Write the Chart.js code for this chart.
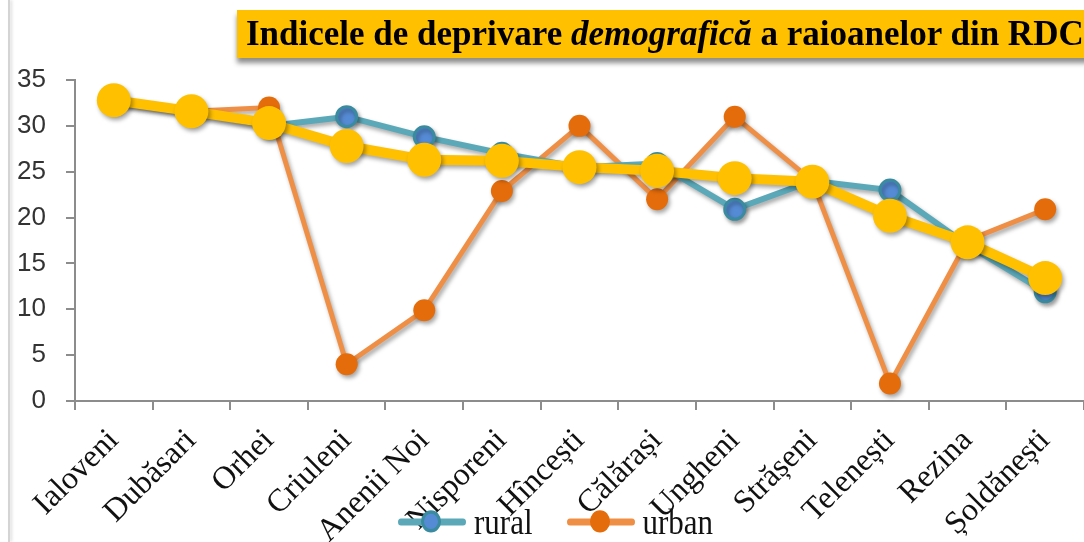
<!DOCTYPE html>
<html>
<head>
<meta charset="utf-8">
<script src="https://cdn.jsdelivr.net/npm/chart.js@4"></script>
<style>
    html, body { margin: 0; padding: 0; background: #fff; }
    #wrap { position: relative; width: 1084px; height: 542px; overflow: hidden; }
    #chart { position: absolute; left: 0; top: 0; }
    #edge { position: absolute; left: 8px; top: 0; width: 2px; height: 542px; background: #d4d4d4; box-shadow: 2px 0 3px rgba(0,0,0,0.15); }
    #title {
        position: absolute; left: 237px; top: 10px; width: 860px; height: 48px;
        background: #ffc000; box-shadow: 0 5px 5px rgba(0,0,0,0.45);
        font-family: "Liberation Serif", "DejaVu Serif", serif; font-weight: bold; font-size: 35px;
        line-height: 48px; padding-left: 9px; white-space: nowrap; color: #000;
    }
    #legend {
        position: absolute; left: 398px; top: 504px; height: 36px;
        font-family: "Liberation Serif", serif; font-size: 31px; color: #111;
        display: flex; align-items: center; white-space: nowrap;
        transform: scaleY(1.18); transform-origin: left center;
    }
    .key { position: relative; display: inline-block; width: 68px; height: 22px; margin-right: 8px; }
    .key .ln { position: absolute; left: 0; right: 0; top: 8px; height: 6px; border-radius: 3px; }
    .key .dot { position: absolute; left: 23px; top: 1px; width: 20px; height: 19px; border-radius: 50%; box-sizing: border-box; }
</style>
</head>
<body>
<div id="wrap">
    <canvas id="chart" width="1084" height="542"></canvas>
    <div id="edge"></div>
    <div id="title">Indicele de deprivare <i>demografică</i> a raioanelor din RDC</div>
    <div id="legend">
        <span class="key"><span class="ln" style="background:#5aa8b8"></span><span class="dot" style="background:#558bd4;border:3px solid #3a8ba0"></span></span>
        <span style="margin-right:34px">rural</span>
        <span class="key"><span class="ln" style="background:#ee8f45"></span><span class="dot" style="background:#e46c0a"></span></span>
        <span>urban</span>
    </div>
</div>
<script>
// Data
const districts = ['Ialoveni', 'Dubăsari', 'Orhei', 'Criuleni', 'Anenii Noi', 'Nisporeni', 'Hîncești',
    'Călărași', 'Ungheni', 'Strășeni', 'Telenești', 'Rezina', 'Șoldănești'];
const totalIndex = [32.8, 31.6, 30.3, 27.8, 26.3, 26.2, 25.5, 25.1, 24.3, 23.9, 20.2, 17.3, 13.4];
const ruralIndex = [32.8, 31.6, 30.0, 31.0, 28.8, 27.0, 25.5, 25.9, 20.9, 24.0, 23.0, 17.0, 11.9];
const urbanIndex = [32.8, 31.6, 32.0, 4.0, 9.9, 22.9, 30.0, 22.0, 31.0, 24.0, 1.9, 17.5, 20.9];
const yTicks = [0, 5, 10, 15, 20, 25, 30, 35];

// Excel-like drop shadow under the series
const shadowPlugin = {
    id: 'shadow',
    beforeDatasetDraw(chart) {
        const ctx = chart.ctx;
        ctx.save();
        ctx.shadowColor = 'rgba(0, 0, 0, 0.35)';
        ctx.shadowBlur = 4;
        ctx.shadowOffsetX = 2;
        ctx.shadowOffsetY = 3;
    },
    afterDatasetDraw(chart) {
        chart.ctx.restore();
    }
};

const ctx = document.getElementById('chart').getContext('2d');
new Chart(ctx, {
    type: 'line',
    data: {
        labels: districts,
        datasets: [
            {
                label: 'total',
                data: totalIndex,
                borderColor: '#ffc000',
                backgroundColor: '#ffc000',
                borderWidth: 10,
                pointRadius: 17,
                pointBorderWidth: 0,
                order: 0
            },
            {
                label: 'rural',
                data: ruralIndex,
                borderColor: '#5aa8b8',
                backgroundColor: '#558bd4',
                pointBorderColor: '#3a8ba0',
                borderWidth: 6,
                pointRadius: 10,
                pointBorderWidth: 3,
                order: 1
            },
            {
                label: 'urban',
                data: urbanIndex,
                borderColor: '#ee8f45',
                backgroundColor: '#e46c0a',
                borderWidth: 5,
                pointRadius: 11,
                pointBorderWidth: 0,
                order: 2
            }
        ]
    },
    options: {
        responsive: false,
        animation: false,
        layout: { autoPadding: false, padding: { left: 10, top: 80, right: -3, bottom: 0 } },
        plugins: {
            legend: { display: false },
            tooltip: { enabled: false },
            title: { display: false } // title is the yellow box above
        },
        scales: {
            x: {
                offset: true,
                border: { color: '#8c8c8c', width: 2 },
                grid: { offset: true, drawOnChartArea: false, tickLength: 9, color: '#8c8c8c', lineWidth: 2 },
                ticks: {
                    minRotation: 45, maxRotation: 45, padding: 12, autoSkip: false,
                    color: '#111',
                    font: { family: '"Liberation Serif", serif', size: 32 }
                },
                afterFit(s) {
                    s.height = 141;
                    s.paddingLeft = 0;
                    s.paddingRight = 0;
                }
            },
            y: {
                min: 0,
                max: 35,
                afterBuildTicks(s) { s.ticks = yTicks.map(v => ({ value: v })); },
                border: { color: '#8c8c8c', width: 2 },
                grid: { drawOnChartArea: false, tickLength: 9, color: '#8c8c8c', lineWidth: 2 },
                ticks: {
                    padding: 20,
                    color: '#333',
                    font: { family: '"Liberation Sans", sans-serif', size: 26 }
                },
                afterFit(s) { s.width = 65; }
            }
        }
    },
    plugins: [shadowPlugin]
});
</script>
</body>
</html>
